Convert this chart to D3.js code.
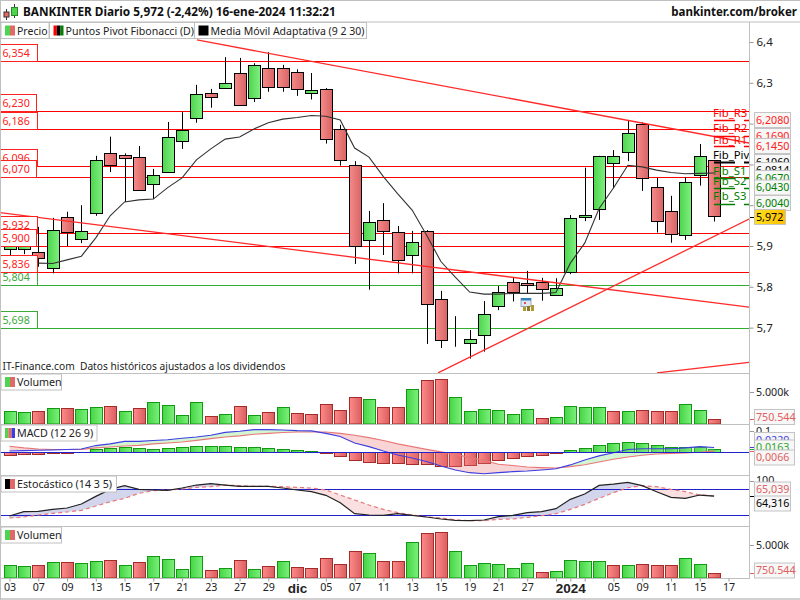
<!DOCTYPE html>
<html>
<head>
<meta charset="utf-8">
<script src="https://d3js.org/d3.v7.min.js"></script>
<style>
html,body{margin:0;padding:0;background:#fff;}
svg{display:block;}
text{font-family:"Noto Sans",sans-serif;font-size:10.7px;fill:#222;white-space:pre;}
</style>
</head>
<body>
<script>
var w = 800, h = 600;

// precios diarios (indice 0 = 03 nov)
var opens  = [5.892,5.892,5.885,5.845,5.970,5.916,5.983,6.129,6.122,6.117,6.051,6.081,6.159,6.213,6.274,6.287,6.323,6.262,6.336,6.336,6.326,6.274,6.284,6.186,6.098,5.914,5.963,5.934,5.877,5.936,5.769,5.671,5.662,5.681,5.752,5.811,5.810,5.811,5.779,5.836,5.970,5.990,6.103,6.130,6.199,6.045,5.985,5.929,6.073,6.110];
var highs  = [5.922,5.922,5.947,5.969,5.984,6.000,6.121,6.168,6.127,6.145,6.089,6.204,6.228,6.295,6.285,6.363,6.361,6.348,6.375,6.344,6.333,6.324,6.287,6.197,6.108,5.986,6.005,5.949,5.937,5.939,5.790,5.728,5.694,5.765,5.802,5.822,5.839,5.822,5.821,5.976,6.092,6.121,6.135,6.209,6.203,6.067,6.023,6.069,6.150,6.110];
var lows   = [5.878,5.880,5.849,5.833,5.900,5.907,5.974,6.081,6.008,6.037,6.015,6.081,6.138,6.202,6.239,6.287,6.245,6.253,6.278,6.278,6.268,6.259,6.151,6.097,5.856,5.793,5.878,5.833,5.833,5.660,5.650,5.653,5.624,5.641,5.743,5.764,5.785,5.766,5.779,5.831,5.961,5.964,6.042,6.108,6.035,5.933,5.908,5.915,6.048,5.960];
var closes = [5.915,5.915,5.870,5.938,5.934,5.936,6.112,6.100,6.114,6.037,6.073,6.166,6.185,6.272,6.264,6.299,6.245,6.343,6.289,6.289,6.284,6.282,6.162,6.110,5.900,5.958,5.936,5.865,5.909,5.757,5.669,5.671,5.671,5.733,5.787,5.787,5.804,5.794,5.796,5.968,5.975,6.121,6.120,6.176,6.066,5.961,5.929,6.058,6.120,5.972];
var adaptiveMA = [null,null,5.858,5.857,5.866,5.875,5.920,5.974,6.008,6.013,6.015,6.043,6.067,6.111,6.138,6.162,6.167,6.187,6.202,6.211,6.215,6.220,6.218,6.209,6.140,6.118,6.070,6.028,5.988,5.927,5.862,5.824,5.787,5.782,5.782,5.784,5.784,5.784,5.786,5.858,5.907,5.992,6.042,6.098,6.094,6.086,6.080,6.077,6.078,6.079];

var volumes = [1979,1823,1979,2448,2448,2292,2604,2760,1979,2448,3385,2917,1354,3385,1198,1510,2760,1354,1823,2604,1667,1510,3073,2135,4166,3854,2604,2604,5416,6823,6979,4166,1979,2292,2135,1510,2292,885,1042,2760,2604,2604,1979,1979,2135,1979,1979,3073,2135,750.544];

var macdHist = [-.016,-.011,-.011,-.006,-.005,-.002,.014,.019,.024,.019,.014,.019,.024,.029,.029,.029,.024,.024,.019,.014,.010,.005,-.005,-.019,-.038,-.048,-.052,-.052,-.057,-.057,-.068,-.068,-.062,-.052,-.038,-.029,-.019,-.014,-.005,.010,.019,.033,.043,.048,.043,.033,.024,.024,.024,.0163];
var macdLine = [.006,.008,.010,.011,.013,.016,.032,.040,.052,.052,.056,.060,.067,.073,.081,.095,.100,.108,.108,.106,.103,.102,.090,.075,.044,.027,.006,-.013,-.027,-.044,-.065,-.084,-.097,-.102,-.097,-.092,-.089,-.084,-.078,-.060,-.037,-.017,-.002,.013,.017,.017,.017,.021,.027,.0229];
var macdSignal = [.029,.021,.016,.013,.013,.014,.021,.025,.030,.033,.040,.044,.049,.057,.065,.073,.078,.086,.090,.094,.097,.097,.097,.090,.081,.070,.056,.040,.027,.014,.002,-.010,-.024,-.038,-.057,-.063,-.070,-.073,-.075,-.068,-.059,-.046,-.033,-.022,-.014,-.008,-.005,-.003,0,.0066];

var stochK = [18.5,28.5,29.2,33.8,36.9,46.2,63.8,80,88.5,80,78.5,77.7,83.1,90,93.1,90,86.9,86.9,86.9,83.1,78.5,74.6,66.2,49.2,23.8,20.8,20,23.8,20,16.2,11.5,8.5,7.7,9.2,16.9,20,26.2,28.5,35.4,56.9,69.2,89.2,92.3,96.2,88.5,74.6,61.5,59.2,66.9,64.3];
var stochD = [13.8,16.2,20.8,24.6,27.7,31.5,41.5,51.5,59.2,70.8,76.9,78.5,80.8,84.6,86.2,90,88.5,86.9,86.9,86.2,84.6,83.1,78.5,66.9,55.4,43.8,33.8,26.2,20.8,16.2,13.8,10,7.7,7.7,10.8,11.5,15.4,19.2,23.8,33.8,45.4,59.2,72.3,83.8,88.5,86.2,80,74.6,66.9,65];

// niveles horizontales
var redLevels = [6.354,6.230,6.186,6.096,6.070,5.932,5.900,5.836];
var greenLevels = [5.804,5.698];
var fibNames = ["Fib_R3","Fib_R2","Fib_R1","Fib_Piv","Fib_S1","Fib_S2","Fib_S3"];
var fibValues = [6.208,6.169,6.145,6.106,6.067,6.043,6.004];
var fibColors = ["#ff0000","#ff0000","#ff0000","#000000","#008000","#008000","#008000"];
var fibTextOffsets = [-7,-8,-6,-7,-7,-7,-8];

// lineas de tendencia: [indice, precio]
var trendLines = [
  [[13.04,6.405],[51.5,6.152]],
  [[-0.66,5.982],[51.43,5.750]],
  [[29.8,5.589],[51.43,5.966]],
  [[45.03,5.589],[51.43,5.615]]
];

var priceTicks = [6.4,6.3,6.2,6.1,6.0,5.9,5.8,5.7];
var xTickIndex = [0,2,4,6,8,10,12,14,16,18,20,22,24,26,28,30,32,34,36,38,39,40,42,44,46,48,50];
var xTickLabels = ["03","07","09","13","15","17","21","23","27","29","dic","05","07","11","13","15","19","21","27","","2024","","05","09","11","15","17"];

var svg = d3.select("body").append("svg").attr("width", w).attr("height", h);

var defs = svg.append("defs");
function gradient(id, c1, c2){
  var g = defs.append("linearGradient").attr("id", id);
  g.append("stop").attr("offset", "0").attr("stop-color", c1);
  g.append("stop").attr("offset", "1").attr("stop-color", c2);
}
gradient("gGreen", "#4dd64d", "#80ee80");
gradient("gRed", "#f58a8a", "#d86464");
gradient("gVolGreen", "#45d545", "#7cf07c");
gradient("gVolRed", "#ff8a8a", "#d95f5f");
gradient("gYellow", "#ffdf20", "#ffbf00");

function clip(id, x, y, cw, ch){
  defs.append("clipPath").attr("id", id).append("rect").attr("x", x).attr("y", y).attr("width", cw).attr("height", ch);
}
clip("cMain", 0, 23, 749, 350);
clip("cMacd", 0, 425, 749, 50);
clip("cStoch", 0, 476, 749, 51);

var x = d3.scaleLinear().domain([0, 50]).range([9.5, 728.5]);
var y = d3.scaleLinear().domain([6.4, 5.7]).range([42, 327.6]);
var yVol1 = d3.scaleLinear().domain([0, 5000]).range([424, 392]);
var yVol2 = d3.scaleLinear().domain([0, 5000]).range([578, 545]);
var yMacd = d3.scaleLinear().domain([0, 0.1]).range([452.3, 431.3]);
var yStoch = d3.scaleLinear().domain([0, 100]).range([524, 480.7]);
var idx = d3.range(closes.length);

function crisp(v){ return Math.round(v) + 0.5; }

var chart = svg.append("g").attr("clip-path", "url(#cMain)");

// niveles
function drawLevels(levels, color){
  chart.selectAll(null).data(levels).enter().append("line")
    .attr("x1", 0).attr("x2", 749)
    .attr("y1", function(d){ return crisp(y(d)); })
    .attr("y2", function(d){ return crisp(y(d)); })
    .attr("stroke", color);
}
drawLevels(redLevels, "#ff0000");
drawLevels(greenLevels, "#2fae2f");

// velas
var candles = chart.selectAll(".candle").data(idx).enter().append("g");
candles.append("line")
  .attr("x1", function(i){ return crisp(x(i)); })
  .attr("x2", function(i){ return crisp(x(i)); })
  .attr("y1", function(i){ return y(highs[i]); })
  .attr("y2", function(i){ return y(lows[i]); })
  .attr("stroke", "#000").attr("stroke-width", 1);
candles.append("rect")
  .attr("x", function(i){ return crisp(x(i)) - 6; })
  .attr("width", 12)
  .attr("y", function(i){ return crisp(y(Math.max(opens[i], closes[i]))); })
  .attr("height", function(i){ return Math.round(Math.abs(y(opens[i]) - y(closes[i]))); })
  .attr("fill", function(i){ return closes[i] >= opens[i] ? "url(#gGreen)" : "url(#gRed)"; })
  .attr("stroke", "#000").attr("stroke-width", 1);

// media movil adaptativa
var maLine = d3.line()
  .defined(function(i){ return adaptiveMA[i] != null; })
  .x(function(i){ return x(i); })
  .y(function(i){ return y(adaptiveMA[i]); });
chart.append("path").attr("d", maLine(idx)).attr("fill", "none").attr("stroke", "#333").attr("stroke-width", 1.1);

// tendencias
trendLines.forEach(function(t){
  chart.append("line")
    .attr("x1", x(t[0][0])).attr("y1", y(t[0][1]))
    .attr("x2", x(t[1][0])).attr("y2", y(t[1][1]))
    .attr("stroke", "#ff2a2a").attr("stroke-width", 1.3);
});

// icono calendario
var cal = svg.append("g");
cal.append("rect").attr("x", 521).attr("y", 298.5).attr("width", 10).attr("height", 8).attr("fill", "#dfe6f2").attr("stroke", "#9ab");
cal.append("rect").attr("x", 521).attr("y", 298).attr("width", 10).attr("height", 2.5).attr("fill", "#2f7fc0");
cal.append("rect").attr("x", 524).attr("y", 302).attr("width", 2).attr("height", 2).attr("fill", "#e05050");
cal.append("rect").attr("x", 523).attr("y", 307).attr("width", 3).attr("height", 4).attr("fill", "#b09a30");
cal.append("rect").attr("x", 527).attr("y", 306).attr("width", 3).attr("height", 5).attr("fill", "#8a7a28");
cal.append("rect").attr("x", 531).attr("y", 305).attr("width", 3).attr("height", 6).attr("fill", "#b09a30");

// etiquetas de nivel a la izquierda
function levelLabel(v, color, bw){
  var by = crisp(y(v));
  svg.append("rect").attr("x", 0.5).attr("y", by - 17).attr("width", bw).attr("height", 17)
    .attr("fill", "#fff").attr("stroke", color);
  svg.append("text").attr("x", 2.5).attr("y", by - 8).attr("dy", "0.35em")
    .style("fill", color).text(v.toFixed(3).replace(".", ","));
}
var greenText = "#3aaa3a";
greenLevels.forEach(function(v){ levelLabel(v, greenText, 37); });
redLevels.forEach(function(v){ levelLabel(v, "#ff2020", (v == 6.230 || v == 6.070 || v == 5.900) ? 36 : 37); });

// fib pivots
var fib = svg.append("g");
fibValues.forEach(function(v, i){
  var fy = Math.round(y(v));
  fib.append("line").attr("x1", 714).attr("x2", 749).attr("y1", fy + 0.5).attr("y2", fy + 0.5)
    .attr("stroke", fibColors[i]).attr("stroke-width", i == 3 ? 2 : 1.6).attr("stroke-dasharray", "21,9,6");
  fib.append("text").attr("x", 713).attr("y", fy + fibTextOffsets[i]).attr("dy", "0.35em")
    .style("fill", fibColors[i]).style("font-size", "11.3px").text(fibNames[i]);
});

// volumen
function drawVolume(yv, base){
  svg.selectAll(null).data(idx).enter().append("rect")
    .attr("x", function(i){ return crisp(x(i)) - 6; })
    .attr("width", 12)
    .attr("y", function(i){ return crisp(yv(volumes[i])); })
    .attr("height", function(i){ return base - crisp(yv(volumes[i])); })
    .attr("fill", function(i){ return i == 0 || closes[i] >= closes[i - 1] ? "url(#gVolGreen)" : "url(#gVolRed)"; })
    .attr("stroke", function(i){ return i == 0 || closes[i] >= closes[i - 1] ? "#119911" : "#a52a2a"; });
}
drawVolume(yVol1, 424);
drawVolume(yVol2, 578);

// relleno entre dos series, con cambio de color en cada cruce
function fillBetween(g, a, b, yf, upColor, downColor){
  var path = d3.line();
  for(var i = 0; i < a.length - 1; i++){
    var d0 = a[i] - b[i], d1 = a[i + 1] - b[i + 1];
    var x0 = x(i), x1 = x(i + 1);
    if(d0 * d1 < 0){
      var t = d0 / (d0 - d1);
      var xc = x0 + (x1 - x0) * t, yc = yf(a[i] + (a[i + 1] - a[i]) * t);
      g.append("path").attr("d", path([[x0, yf(a[i])], [xc, yc], [x0, yf(b[i])]]) + "Z").attr("fill", d0 > 0 ? upColor : downColor);
      g.append("path").attr("d", path([[xc, yc], [x1, yf(a[i + 1])], [x1, yf(b[i + 1])]]) + "Z").attr("fill", d1 > 0 ? upColor : downColor);
    }else{
      g.append("path").attr("d", path([[x0, yf(a[i])], [x1, yf(a[i + 1])], [x1, yf(b[i + 1])], [x0, yf(b[i])]]) + "Z")
        .attr("fill", d0 + d1 > 0 ? upColor : downColor);
    }
  }
}

function seriesLine(yf){
  return d3.line().x(function(d, i){ return x(i); }).y(function(d){ return yf(d); });
}

// macd
var macd = svg.append("g").attr("clip-path", "url(#cMacd)");
macd.selectAll(null).data(idx).enter().append("rect")
  .attr("x", function(i){ return crisp(x(i)) - 6; })
  .attr("width", 12)
  .attr("y", function(i){ return crisp(Math.min(yMacd(0), yMacd(macdHist[i]))); })
  .attr("height", function(i){ return Math.round(Math.abs(yMacd(macdHist[i]) - yMacd(0))); })
  .attr("fill", function(i){ return macdHist[i] >= 0 ? "url(#gVolGreen)" : "url(#gVolRed)"; })
  .attr("stroke", function(i){ return macdHist[i] >= 0 ? "#119911" : "#a52a2a"; });
fillBetween(macd, macdLine, macdSignal, yMacd, "rgba(120,225,120,0.32)", "rgba(235,120,120,0.32)");
macd.append("path").attr("d", seriesLine(yMacd)(macdSignal)).attr("fill", "none").attr("stroke", "#e87878").attr("stroke-width", 1.1);
macd.append("path").attr("d", seriesLine(yMacd)(macdLine)).attr("fill", "none").attr("stroke", "#3d3de0").attr("stroke-width", 1.1);
macd.append("line").attr("x1", 0).attr("x2", 749).attr("y1", crisp(yMacd(0))).attr("y2", crisp(yMacd(0))).attr("stroke", "#2222cc");

// estocastico
var stoch = svg.append("g").attr("clip-path", "url(#cStoch)");
fillBetween(stoch, stochK, stochD, yStoch, "rgba(110,115,195,0.3)", "rgba(235,130,130,0.25)");
[80, 20].forEach(function(v){
  stoch.append("line").attr("x1", 0).attr("x2", 749).attr("y1", crisp(yStoch(v))).attr("y2", crisp(yStoch(v))).attr("stroke", "#2222cc");
});
stoch.append("path").attr("d", seriesLine(yStoch)(stochD)).attr("fill", "none").attr("stroke", "#e87878").attr("stroke-width", 1.2).attr("stroke-dasharray", "4,3");
stoch.append("path").attr("d", seriesLine(yStoch)(stochK)).attr("fill", "none").attr("stroke", "#222").attr("stroke-width", 1.2);

// marco y separadores
var gray = "#c0c0c0";
[22, 373.5, 424.5, 475.5, 526.5].forEach(function(sy){
  svg.append("line").attr("x1", 0).attr("x2", sy == 22 ? 800 : 749).attr("y1", sy).attr("y2", sy).attr("stroke", gray).attr("stroke-width", 1.2);
});
svg.append("line").attr("x1", 0).attr("x2", 800).attr("y1", 0.5).attr("y2", 0.5).attr("stroke", gray);
svg.append("line").attr("x1", 0).attr("x2", 800).attr("y1", 599).attr("y2", 599).attr("stroke", gray).attr("stroke-width", 1.5);
svg.append("line").attr("x1", 0.5).attr("x2", 0.5).attr("y1", 0).attr("y2", 600).attr("stroke", gray);
svg.append("line").attr("x1", 749.5).attr("x2", 749.5).attr("y1", 22).attr("y2", 578).attr("stroke", gray);
svg.append("line").attr("x1", 0).attr("x2", 750).attr("y1", 578.5).attr("y2", 578.5).attr("stroke", gray);

// eje de precios
var yAxis = d3.axisRight(y).tickValues(priceTicks).tickSize(4).tickPadding(3)
  .tickFormat(function(d){ return d.toFixed(1).replace(".", ","); });
var yAxisG = svg.append("g").attr("transform", "translate(749.5,0)").call(yAxis);
yAxisG.select(".domain").remove();
yAxisG.selectAll("line").attr("stroke", "#999");
yAxisG.selectAll("text").style("font-size", "11.5px");

function sideTick(ty, color){
  svg.append("line").attr("x1", 750).attr("x2", 754).attr("y1", crisp(ty)).attr("y2", crisp(ty)).attr("stroke", color);
}
function sideLabel(txt, cy, color, bw, fill, noBox){
  if(!noBox){
    svg.append("rect").attr("x", 754.5).attr("y", cy - 7.5).attr("width", bw).attr("height", 15)
      .attr("fill", fill || "#f7f7f7").attr("stroke", "#c4c4c4");
  }
  svg.append("text").attr("x", 756).attr("y", cy).attr("dy", "0.35em").style("fill", color).text(txt);
}

// valores de pivotes a la derecha
sideLabel("6,2080", 120, "#ff2020", 36);
sideLabel("6,1690", 136, "#ff2020", 36);
sideLabel("6,1450", 146, "#ff2020", 36);
sideLabel("6,1060", 162, "#000", 36);
sideLabel("6,0814", 170, "#000", 36);
sideLabel("6,0670", 178, "#008000", 36);
sideLabel("6,0430", 187.5, "#008000", 36);
sideLabel("6,0040", 203, "#008000", 36);
sideTick(y(closes[49]), "#000");
sideLabel("5,972", 217, "#000", 31, "url(#gYellow)");

// volumen derecha
sideTick(392, "#999");
sideLabel("5.000k", 392, "#222", 0, null, true);
sideTick(yVol1(volumes[49]), "#e06060");
sideLabel("750.544", 417, "#e06060", 40);
sideTick(545, "#999");
sideLabel("5.000k", 545, "#222", 0, null, true);
sideTick(yVol2(volumes[49]), "#e06060");
sideLabel("750.544", 570.5, "#e06060", 40);

// macd derecha
sideTick(yMacd(0.1), "#999");
sideLabel("0,1", yMacd(0.1), "#222", 0, null, true);
sideTick(yMacd(macdLine[49]), "#3d3de0");
sideTick(yMacd(macdHist[49]), "#2aa52a");
sideTick(yMacd(macdSignal[49]), "#e06060");
sideLabel("0,0229", 440, "#3d3de0", 40);
sideLabel("0,0163", 447.5, "#2aa52a", 40);
sideLabel("0,0066", 457.5, "#e06060", 40);

// estocastico derecha
sideTick(yStoch(100), "#999");
sideLabel("100", yStoch(100), "#222", 0, null, true);
sideTick(yStoch(stochK[49]), "#000");
sideLabel("65,039", 489.5, "#e06060", 36);
sideLabel("64,316", 503.5, "#000", 36);

// eje x
var xAxis = d3.axisBottom(x).tickValues(xTickIndex).tickSize(3).tickPadding(2)
  .tickFormat(function(d, i){ return xTickLabels[i]; });
var xAxisG = svg.append("g").attr("transform", "translate(0,578.5)").call(xAxis);
xAxisG.select(".domain").remove();
xAxisG.selectAll("line").attr("stroke", "#999");
function isBig(i){ return xTickLabels[i] == "dic" || xTickLabels[i] == "2024"; }
xAxisG.selectAll("text")
  .style("font-size", function(d, i){ return isBig(i) ? "13.5px" : null; })
  .style("font-weight", function(d, i){ return isBig(i) ? "bold" : null; })
  .style("font-family", function(d, i){ return isBig(i) ? "'Liberation Sans'" : null; });

// leyendas
function legend(lx, ly, bw, label, swatches, sw, size){
  svg.append("rect").attr("x", lx).attr("y", ly).attr("width", bw).attr("height", 16)
    .attr("fill", "#fff").attr("stroke", gray);
  var step = sw / swatches.length;
  swatches.forEach(function(c, i){
    svg.append("rect").attr("x", lx + 4 + i * step).attr("y", ly + 3).attr("width", step).attr("height", 10).attr("fill", c);
  });
  svg.append("text").attr("x", lx + 4 + sw + 2).attr("y", ly + 8.5).attr("dy", "0.35em").style("font-size", size + "px").text(label);
}
legend(1, 22.5, 48, "Precio", ["#4fd44f", "#e06868"], 10, 10.5);
legend(49.5, 22.5, 145, "Puntos Pivot Fibonacci (D)", ["#ff0000", "#000000", "#0a7a0a"], 10, 10.6);
legend(194.5, 22.5, 172, "Media Móvil Adaptativa (9 2 30)", ["#000000"], 10, 10.5);
legend(1, 374, 60.5, "Volumen", ["#4fd44f", "#e06868"], 10, 10.7);
legend(1, 425, 96, "MACD (12 26 9)", ["#4fd44f", "#e06868", "#3d3de0"], 10, 10.7);
legend(1, 476, 115.5, "Estocástico (14 3 5)", ["#000000", "#e06868"], 10, 10.7);
legend(1, 527, 60.5, "Volumen", ["#4fd44f", "#e06868"], 10, 10.7);

// titulo
var icon = svg.append("g");
icon.append("line").attr("x1", 6.5).attr("x2", 6.5).attr("y1", 9).attr("y2", 20).attr("stroke", "#333");
icon.append("rect").attr("x", 4).attr("y", 12).attr("width", 5).attr("height", 5).attr("fill", "#e86868").attr("stroke", "#333");
icon.append("line").attr("x1", 14.5).attr("x2", 14.5).attr("y1", 4).attr("y2", 18).attr("stroke", "#333");
icon.append("rect").attr("x", 11.5).attr("y", 7.5).attr("width", 6).attr("height", 8).attr("fill", "#4fd44f").attr("stroke", "#2a8a2a");

svg.append("text").attr("x", 23).attr("y", 12).attr("dy", "0.35em")
  .style("font-weight", "bold").style("font-size", "11.8px").style("fill", "#111")
  .text("BANKINTER Diario 5,972 (-2,42%) 16-ene-2024 11:32:21");
svg.append("text").attr("x", 797).attr("y", 12).attr("dy", "0.35em").attr("text-anchor", "end")
  .style("font-weight", "bold").style("font-size", "11.5px").style("fill", "#111").text("bankinter.com/broker");
svg.append("text").attr("x", 2.5).attr("y", 366.5).attr("dy", "0.35em")
  .style("font-size", "10.2px").text("IT-Finance.com  Datos históricos ajustados a los dividendos");
</script>
</body>
</html>
